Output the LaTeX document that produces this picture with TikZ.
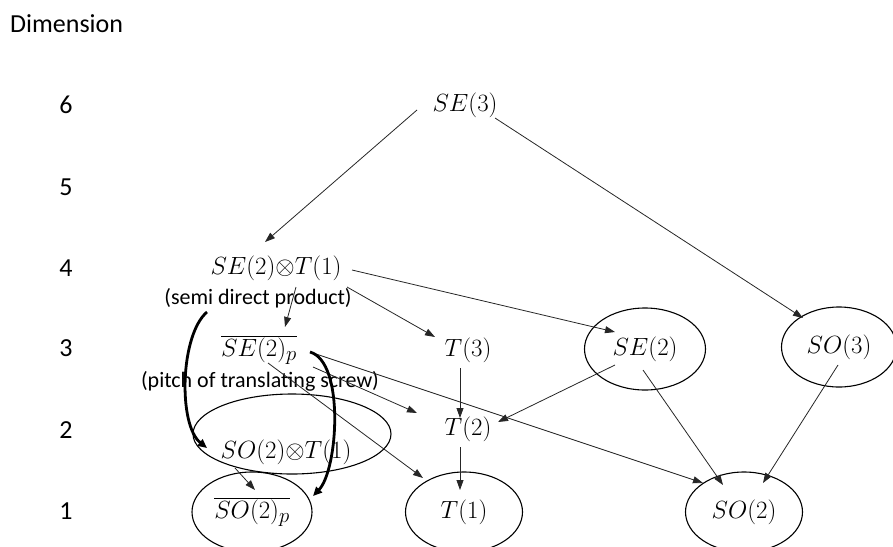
\documentclass[tikz,border=0pt]{standalone}
\usepackage[no-math]{fontspec}
\setmainfont{Carlito}
\usetikzlibrary{arrows.meta,shapes.geometric,calc}
\tikzset{
  grp/.style={inner sep=0pt,font=\fontsize{24.88}{30}\selectfont,text=black},
  ell/.style={grp,ellipse,draw=black,line width=1.1pt,minimum width=117pt,minimum height=80pt},
  lbl/.style={inner sep=0pt,font=\fontsize{22}{26}\selectfont,text=black},
  dim/.style={inner sep=0pt,font=\fontsize{26}{30}\selectfont,text=black},
  arr/.style={draw=black!85,line width=0.8pt,-{Triangle[length=10pt,width=7pt]}},
  thick arr/.style={draw=black,line width=2.8pt,-{Triangle[length=9pt,width=8pt]}},
  ring/.style={draw=black,line width=1.1pt}
}
\begin{document}
\begin{tikzpicture}[x=1pt,y=-1pt]
\useasboundingbox (0,0) rectangle (893,546);
% dimension axis
\node[dim,anchor=west] (dimlab) at (10,24) {Dimension};
\node[dim] (d6) at (66,105) {6};
\node[dim] (d5) at (66,187) {5};
\node[dim] (d4) at (66,268) {4};
\node[dim] (d3) at (66,348) {3};
\node[dim] (d2) at (66,430) {2};
\node[dim] (d1) at (66,511) {1};
% groups
\node[grp] (se3) at (465,105) {$SE(3)$};
\node[grp] (sot) at (276,268) {$SE(2){\otimes}T(1)$};
\node[lbl] (semi) at (258,298) {(semi direct product)};
\node[grp] (sep) at (259,350) {$\overline{SE(2)_p}$};
\node[lbl] (pitch) at (260,381) {(pitch of translating screw)};
\node[grp] (t3) at (468,350) {$T(3)$};
\node[ell,minimum width=121pt,minimum height=82pt] (se2) at (645,349) {$SE(2)$};
\node[ell,minimum width=115pt] (so3) at (839,347) {$SO(3)$};
\node[grp] (t2) at (468,429) {$T(2)$};
\node[grp] (so2t) at (286,452) {$SO(2){\otimes}T(1)$};
\draw[ring] (292,434) ellipse [x radius=99pt, y radius=40pt];
\node[ell,minimum width=120pt] (so2p) at (252,512) {$\overline{SO(2)_p}$};
\node[ell] (t1) at (464,512) {$T(1)$};
\node[ell] (so2) at (744,512) {$SO(2)$};
% thin arrows
\draw[arr] ($(se3)+(-48,5)$) -- ($(sot)+(-11,-26)$);
\draw[arr] ($(se3)+(30,13)$) -- ($(so3)+(-36,-29)$);
\draw[arr] ($(sot)+(20,19)$) -- ($(sep)+(26,-23)$);
\draw[arr] ($(sot)+(71,19)$) -- ($(t3)+(-33,-13)$);
\draw[arr] ($(sot)+(76,2)$) -- ($(se2)+(-30,-17)$);
\draw[arr] ($(sep)+(54,3)$) -- ($(so2)+(-41,-29)$);
\draw[arr] ($(sep)+(54,17)$) -- ($(t2)+(-51,-16)$);
\draw[arr] ($(sep)+(9,13)$) -- ($(t1)+(-41,-34)$);
\draw[arr] ($(t3)+(-8,18)$) -- ($(t2)+(-8,-11)$);
\draw[arr] ($(t2)+(-8,18)$) -- ($(t1)+(-4,-22)$);
\draw[arr] ($(se2)+(-30,16)$) -- ($(t2)+(30,-7)$);
\draw[arr] ($(se2)+(-2,21)$) -- ($(so2)+(-21,-27)$);
\draw[arr] ($(so3)+(-1,18)$) -- ($(so2)+(19,-29)$);
\draw[arr] ($(so2t)+(-51,16)$) -- ($(so2p)+(3,-22)$);
% thick curved arrows
\draw[thick arr] ($(semi)+(-51,14)$) .. controls (180,335) and (178,425) .. ($(so2t)+(-79,-4)$);
\draw[thick arr] ($(sep)+(51,2)$) .. controls (345,362) and (338,470) .. ($(so2p)+(61,-16)$);
\end{tikzpicture}
\end{document}
